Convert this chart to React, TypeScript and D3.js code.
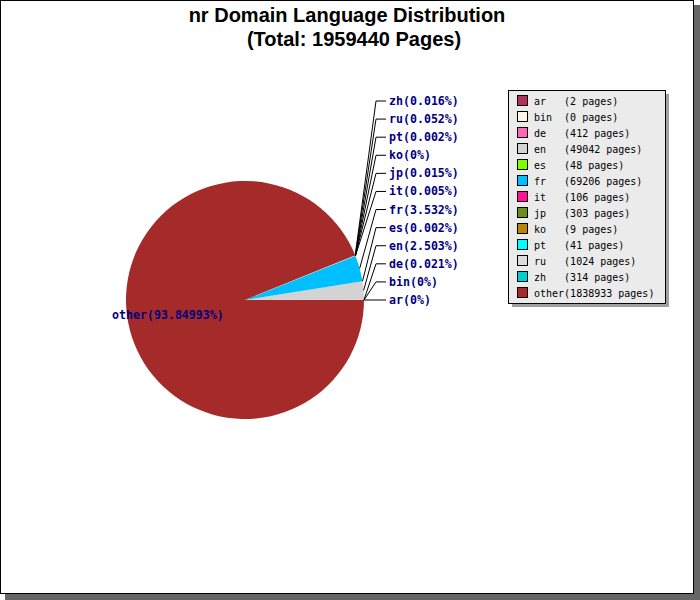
import React, { useEffect, useRef } from 'react';
import * as d3 from 'd3';

const languages = ['ar', 'bin', 'de', 'en', 'es', 'fr', 'it', 'jp', 'ko', 'pt', 'ru', 'zh', 'other'];
const pages = [2, 0, 412, 49042, 48, 69206, 106, 303, 9, 41, 1024, 314, 1838933];
const percentLabels = ['0%', '0%', '0.021%', '2.503%', '0.002%', '3.532%', '0.005%', '0.015%', '0%', '0.002%', '0.052%', '0.016%', '93.84993%'];
const sliceColors = ['#b03060', '#fdf5e6', '#ff69b4', '#d3d3d3', '#7fff00', '#00bfff', '#ff1493', '#6b8e23', '#b8860b', '#00ffff', '#dcdcdc', '#00ced1', '#a52a2a'];
const total = 1959440;

const App = () => {
  const chartRef = useRef(null);

  useEffect(() => {
    const svg = d3.select(chartRef.current)
      .attr('width', 700)
      .attr('height', 600)
      .style('position', 'absolute')
      .style('left', '0px')
      .style('top', '0px');

    svg.selectAll('*').remove();

    // frame with drop shadow
    svg.append('rect').attr('x', 5).attr('y', 5).attr('width', 695).attr('height', 595).attr('fill', '#666666');
    svg.append('rect').attr('x', 0.5).attr('y', 0.5).attr('width', 693).attr('height', 593)
      .attr('fill', '#ffffff').attr('stroke', '#000000');

    // title
    const title = svg.append('g')
      .attr('font-family', '"Liberation Sans", Arial, sans-serif')
      .attr('font-weight', 'bold')
      .attr('font-size', 20)
      .attr('text-anchor', 'middle');
    title.append('text').attr('x', 347).attr('y', 22).text('nr Domain Language Distribution');
    title.append('text').attr('x', 354).attr('y', 46).text(`(Total: ${total} Pages)`);

    const cx = 245, cy = 300, r = 119;
    const data = languages.map((name, i) => ({ name, value: pages[i], color: sliceColors[i], pct: percentLabels[i] }));

    const pie = d3.pie()
      .value(d => d.value)
      .sort(null)
      .startAngle(Math.PI / 2)
      .endAngle(Math.PI / 2 - 2 * Math.PI);
    const arcs = pie(data);
    const arc = d3.arc().innerRadius(0).outerRadius(r);

    const g = svg.append('g').attr('transform', `translate(${cx},${cy})`);
    g.selectAll('path')
      .data(arcs)
      .enter().append('path')
      .attr('d', arc)
      .attr('fill', d => d.data.color);

    // leader lines and labels for the small slices
    const small = arcs.slice(0, 12);
    const labelY = d3.scaleLinear().domain([0, 11]).range([cy, cy - 199]);
    const labels = svg.append('g');
    small.forEach((d, i) => {
      const a = (d.startAngle + d.endAngle) / 2;
      const ex = cx + Math.sin(a) * r;
      const ey = cy - Math.cos(a) * r;
      const y = labelY(i);
      labels.append('polyline')
        .attr('points', `${ex},${ey} ${376},${y} ${386},${y}`)
        .attr('fill', 'none')
        .attr('stroke', '#000000')
        .attr('stroke-width', 1);
      labels.append('text')
        .attr('x', 389)
        .attr('y', y + 4)
        .attr('font-family', '"DejaVu Sans Mono", monospace')
        .attr('font-weight', 'bold')
        .attr('font-size', 11.6)
        .attr('fill', '#000080')
        .text(`${d.data.name}(${d.data.pct})`);
    });

    // label of the large slice, inside the pie
    const big = arcs[12];
    const ba = (big.startAngle + big.endAngle) / 2;
    svg.append('text')
      .attr('x', cx + Math.sin(ba) * r * 0.66)
      .attr('y', cy - Math.cos(ba) * r * 0.66 + 4)
      .attr('text-anchor', 'middle')
      .attr('font-family', '"DejaVu Sans Mono", monospace')
      .attr('font-weight', 'bold')
      .attr('font-size', 11.6)
      .attr('fill', '#000080')
      .text(`${big.data.name}(${big.data.pct})`);

    // legend
    const lx = 508, ly = 90, lw = 157, lh = 213;
    const legend = svg.append('g');
    legend.append('rect').attr('x', lx + 4).attr('y', ly + 4).attr('width', lw).attr('height', lh).attr('fill', '#a0a0a0');
    legend.append('rect').attr('x', lx + 0.5).attr('y', ly + 0.5).attr('width', lw).attr('height', lh)
      .attr('fill', '#ebebeb').attr('stroke', '#000000');

    const rowY = d3.scaleLinear().domain([0, 12]).range([ly + 11, ly + 203]);
    data.forEach((d, i) => {
      const y = rowY(i);
      legend.append('rect')
        .attr('x', lx + 9.5).attr('y', y - 5.5)
        .attr('width', 10).attr('height', 10)
        .attr('fill', d.color).attr('stroke', '#000000');
      legend.append('text')
        .attr('x', lx + 26)
        .attr('y', y + 4)
        .attr('font-family', '"DejaVu Sans Mono", monospace')
        .attr('font-size', 10)
        .attr('fill', '#000000')
        .style('white-space', 'pre')
        .text(`${d.name.padEnd(5, ' ')}(${d.value} pages)`);
    });
  }, []);

  return <svg ref={chartRef}></svg>;
};

export default App;
